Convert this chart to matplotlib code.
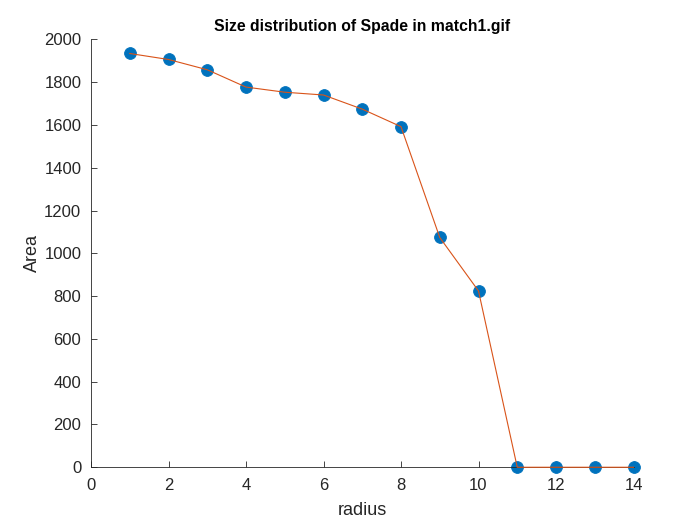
import matplotlib
matplotlib.use("Agg")
import matplotlib.pyplot as plt

radius = [1, 2, 3, 4, 5, 6, 7, 8, 9, 10, 11, 12, 13, 14]
area = [1934, 1906, 1858, 1777, 1753, 1740, 1674, 1592, 1074, 824, 0, 0, 0, 0]

plt.rcParams["font.family"] = ["Liberation Sans", "DejaVu Sans"]

fig = plt.figure(figsize=(7, 5.25), dpi=100)
ax = fig.add_axes([0.13, 0.11, 0.775, 0.815])

ax.plot(radius, area, "o", color="#0072BD", markersize=8.5, markeredgewidth=0.6,
        zorder=2, clip_on=False)
ax.plot(radius, area, "-", color="#D95319", linewidth=0.8, zorder=3, clip_on=False)

ax.set_xlim(0, 14)
ax.set_ylim(0, 2000)
ax.set_xticks(range(0, 15, 2))
ax.set_yticks(range(0, 2001, 200))
ax.tick_params(direction="in", labelsize=12, length=4, width=0.6, colors="#262626")
ax.tick_params(axis="x", pad=8)
ax.tick_params(axis="y", pad=7)
for side in ("top", "right"):
    ax.spines[side].set_visible(False)
for side in ("left", "bottom"):
    ax.spines[side].set_linewidth(0.6)
    ax.spines[side].set_color("#262626")

ax.set_xlabel("radius", fontsize=13, color="#262626", labelpad=6)
ax.set_ylabel("Area", fontsize=13, color="#262626", labelpad=2)
ax.set_title("Size distribution of Spade in match1.gif", fontsize=11.3,
             fontweight="bold", color="black", pad=6)

fig.savefig("out.png")
